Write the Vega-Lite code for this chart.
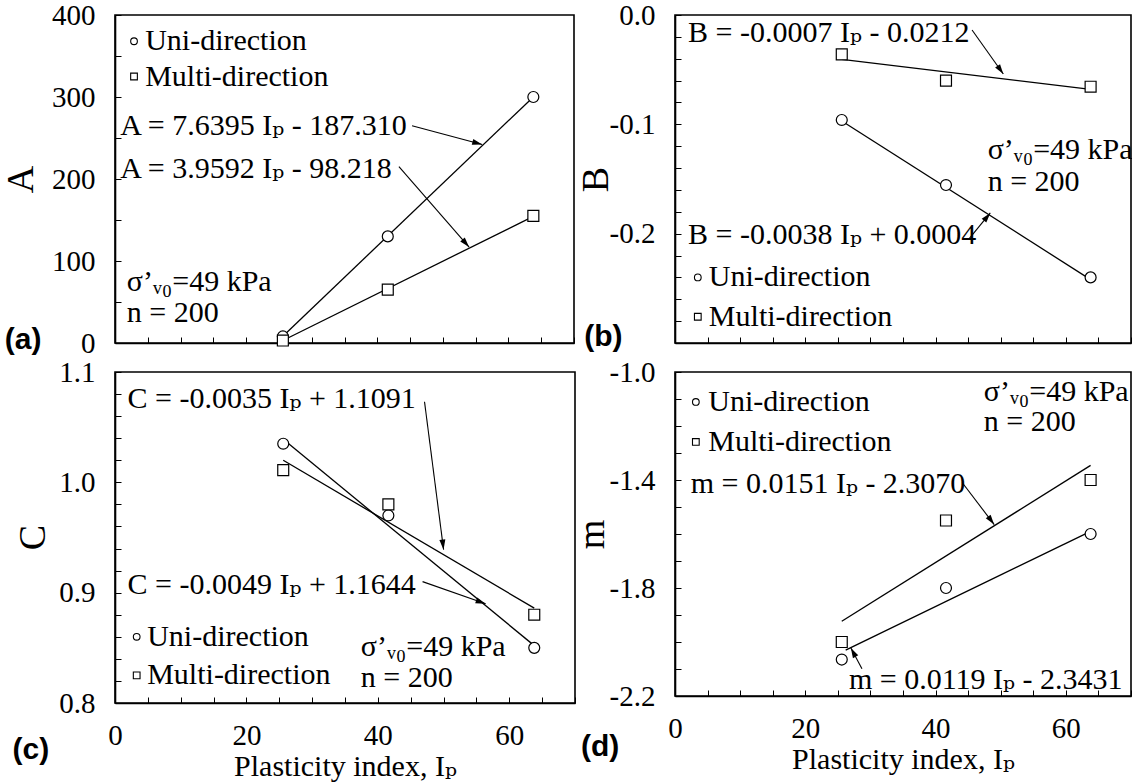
{
  "$schema": "https://vega.github.io/schema/vega-lite/v6.json",
  "background": "white",
  "padding": {"left": 1, "top": 0, "right": 0, "bottom": 0},
  "datasets": {
    "points": [
      {"panel": "a", "series": "Uni-direction", "ip": 25.6, "v": 8},
      {"panel": "a", "series": "Uni-direction", "ip": 41.6, "v": 130},
      {"panel": "a", "series": "Uni-direction", "ip": 63.8, "v": 300},
      {"panel": "a", "series": "Multi-direction", "ip": 25.6, "v": 3},
      {"panel": "a", "series": "Multi-direction", "ip": 41.6, "v": 65},
      {"panel": "a", "series": "Multi-direction", "ip": 63.8, "v": 155},
      {"panel": "b", "series": "Uni-direction", "ip": 25.6, "v": -0.096},
      {"panel": "b", "series": "Uni-direction", "ip": 41.6, "v": -0.1555},
      {"panel": "b", "series": "Uni-direction", "ip": 63.8, "v": -0.24},
      {"panel": "b", "series": "Multi-direction", "ip": 25.6, "v": -0.036},
      {"panel": "b", "series": "Multi-direction", "ip": 41.6, "v": -0.06},
      {"panel": "b", "series": "Multi-direction", "ip": 63.8, "v": -0.0656},
      {"panel": "c", "series": "Uni-direction", "ip": 25.6, "v": 1.035},
      {"panel": "c", "series": "Uni-direction", "ip": 41.6, "v": 0.97},
      {"panel": "c", "series": "Uni-direction", "ip": 63.8, "v": 0.85},
      {"panel": "c", "series": "Multi-direction", "ip": 25.6, "v": 1.011},
      {"panel": "c", "series": "Multi-direction", "ip": 41.6, "v": 0.98},
      {"panel": "c", "series": "Multi-direction", "ip": 63.8, "v": 0.88},
      {"panel": "d", "series": "Uni-direction", "ip": 25.6, "v": -2.065},
      {"panel": "d", "series": "Uni-direction", "ip": 41.6, "v": -1.8},
      {"panel": "d", "series": "Uni-direction", "ip": 63.8, "v": -1.6},
      {"panel": "d", "series": "Multi-direction", "ip": 25.6, "v": -2.0},
      {"panel": "d", "series": "Multi-direction", "ip": 41.6, "v": -1.55},
      {"panel": "d", "series": "Multi-direction", "ip": 63.8, "v": -1.4}
    ],
    "keys": [
      {"panel": "a", "series": "Uni-direction", "ip": 2.9, "v": 368},
      {"panel": "a", "series": "Multi-direction", "ip": 2.9, "v": 325},
      {"panel": "b", "series": "Uni-direction", "ip": 3.5, "v": -0.24},
      {"panel": "b", "series": "Multi-direction", "ip": 3.5, "v": -0.276},
      {"panel": "c", "series": "Uni-direction", "ip": 3.3, "v": 0.86},
      {"panel": "c", "series": "Multi-direction", "ip": 3.3, "v": 0.825},
      {"panel": "d", "series": "Uni-direction", "ip": 3.2, "v": -1.111},
      {"panel": "d", "series": "Multi-direction", "ip": 3.2, "v": -1.259}
    ],
    "fits": [
      {"panel": "a", "series": "Uni-direction", "ip": 25.6, "v": 8.3},
      {"panel": "a", "series": "Uni-direction", "ip": 63.8, "v": 300.1},
      {"panel": "a", "series": "Multi-direction", "ip": 25.6, "v": 3.1},
      {"panel": "a", "series": "Multi-direction", "ip": 63.8, "v": 154.4},
      {"panel": "b", "series": "Uni-direction", "ip": 25.6, "v": -0.097},
      {"panel": "b", "series": "Uni-direction", "ip": 63.8, "v": -0.242},
      {"panel": "b", "series": "Multi-direction", "ip": 25.6, "v": -0.0405},
      {"panel": "b", "series": "Multi-direction", "ip": 63.8, "v": -0.068},
      {"panel": "c", "series": "Uni-direction", "ip": 25.6, "v": 1.039},
      {"panel": "c", "series": "Uni-direction", "ip": 63.8, "v": 0.852},
      {"panel": "c", "series": "Multi-direction", "ip": 25.6, "v": 1.02},
      {"panel": "c", "series": "Multi-direction", "ip": 63.8, "v": 0.886},
      {"panel": "d", "series": "Uni-direction", "ip": 26.2, "v": -2.03},
      {"panel": "d", "series": "Uni-direction", "ip": 63.8, "v": -1.59},
      {"panel": "d", "series": "Multi-direction", "ip": 25.6, "v": -1.923},
      {"panel": "d", "series": "Multi-direction", "ip": 63.8, "v": -1.346}
    ],
    "arrows": [
      {"panel": "a", "ip0": 45.3, "v0": 265, "ip": 56.0, "v": 242, "angle": 105},
      {"panel": "a", "ip0": 43.3, "v0": 215, "ip": 54.0, "v": 117, "angle": 139},
      {"panel": "b", "ip0": 45.6, "v0": -0.0137, "ip": 50.4, "v": -0.054, "angle": 145},
      {"panel": "b", "ip0": 45.1, "v0": -0.205, "ip": 48.4, "v": -0.181, "angle": 39},
      {"panel": "c", "ip0": 47.1, "v0": 1.073, "ip": 50.0, "v": 0.939, "angle": 173},
      {"panel": "c", "ip0": 46.8, "v0": 0.91, "ip": 56.4, "v": 0.89, "angle": 109},
      {"panel": "d", "ip0": 44.2, "v0": -1.413, "ip": 49.0, "v": -1.565, "angle": 143},
      {"panel": "d", "ip0": 28.7, "v0": -2.099, "ip": 27.0, "v": -2.022, "angle": -28}
    ],
    "notes": [
      {"panel": "a", "ip": 0.8, "v": 265, "text": "A = 7.6395 Iₚ - 187.310"},
      {"panel": "a", "ip": 0.8, "v": 211.6, "text": "A = 3.9592 Iₚ - 98.218"},
      {"panel": "a", "ip": 1.8, "v": 74.6, "text": "σ’ᵥ₀=49 kPa"},
      {"panel": "a", "ip": 1.8, "v": 36.7, "text": "n = 200"},
      {"panel": "a", "ip": 4.6, "v": 368, "text": "Uni-direction"},
      {"panel": "a", "ip": 4.6, "v": 325, "text": "Multi-direction"},
      {"panel": "b", "ip": 2.0, "v": -0.0165, "text": "B = -0.0007 Iₚ - 0.0212"},
      {"panel": "b", "ip": 2.0, "v": -0.201, "text": "B = -0.0038 Iₚ + 0.0004"},
      {"panel": "b", "ip": 48.0, "v": -0.1235, "text": "σ’ᵥ₀=49 kPa"},
      {"panel": "b", "ip": 48.0, "v": -0.153, "text": "n = 200"},
      {"panel": "b", "ip": 5.2, "v": -0.24, "text": "Uni-direction"},
      {"panel": "b", "ip": 5.2, "v": -0.276, "text": "Multi-direction"},
      {"panel": "c", "ip": 1.9, "v": 1.0755, "text": "C = -0.0035 Iₚ + 1.1091"},
      {"panel": "c", "ip": 1.9, "v": 0.907, "text": "C = -0.0049 Iₚ + 1.1644"},
      {"panel": "c", "ip": 37.4, "v": 0.851, "text": "σ’ᵥ₀=49 kPa"},
      {"panel": "c", "ip": 37.4, "v": 0.823, "text": "n = 200"},
      {"panel": "c", "ip": 4.9, "v": 0.86, "text": "Uni-direction"},
      {"panel": "c", "ip": 4.9, "v": 0.825, "text": "Multi-direction"},
      {"panel": "d", "ip": 2.4, "v": -1.414, "text": "m = 0.0151 Iₚ - 2.3070"},
      {"panel": "d", "ip": 26.7, "v": -2.141, "text": "m = 0.0119 Iₚ - 2.3431"},
      {"panel": "d", "ip": 47.4, "v": -1.074, "text": "σ’ᵥ₀=49 kPa"},
      {"panel": "d", "ip": 47.4, "v": -1.185, "text": "n = 200"},
      {"panel": "d", "ip": 5.1, "v": -1.111, "text": "Uni-direction"},
      {"panel": "d", "ip": 5.1, "v": -1.259, "text": "Multi-direction"}
    ],
    "tags": [
      {"panel": "a", "ip": -14, "v": 3.7, "text": "(a)"},
      {"panel": "b", "ip": -11, "v": -0.2945, "text": "(b)"},
      {"panel": "c", "ip": -12.8, "v": 0.757, "text": "(c)"},
      {"panel": "d", "ip": -11.5, "v": -2.389, "text": "(d)"}
    ]
  },
  "columns": 2,
  "spacing": {"row": -2, "column": -5},
  "resolve": {
    "scale": {"x": "independent", "y": "independent", "shape": "independent"}
  },
  "concat": [
    {
      "width": 459, "height": 328,
      "encoding": {
        "x": {"field": "ip", "type": "quantitative", "scale": {"domain": [0, 70], "nice": false, "zero": false},
          "axis": {"title": null, "values": [0,5,10,15,20,25,30,35,40,45,50,55,60,65,70], "labels": false}},
        "y": {"field": "v", "type": "quantitative", "scale": {"domain": [0, 400], "nice": false, "zero": false},
          "axis": {"title": "A", "titleX": -94, "titleY": 164, "values": [0,50,100,150,200,250,300,350,400],
            "labelExpr": "datum.value % 100 == 0 ? format(datum.value, 'd') : ''"}}
      },
      "layer": [
        {"data": {"name": "fits"}, "transform": [{"filter": "datum.panel == 'a'"}],
         "mark": {"type": "line", "color": "black", "strokeWidth": 1.3}, "encoding": {"detail": {"field": "series"}}},
        {"data": {"name": "arrows"}, "transform": [{"filter": "datum.panel == 'a'"}],
         "mark": {"type": "rule", "color": "black", "strokeWidth": 1.1},
         "encoding": {"x2": {"field": "ip0"}, "y2": {"field": "v0"}}},
        {"data": {"name": "arrows"}, "transform": [{"filter": "datum.panel == 'a'"}],
         "mark": {"type": "point", "shape": "M0,0L-0.3,1L0.3,1Z", "filled": true, "color": "black", "size": 400, "opacity": 1},
         "encoding": {"angle": {"field": "angle", "type": "quantitative", "scale": null}}},
        {"data": {"name": "points"}, "transform": [{"filter": "datum.panel == 'a'"}],
         "mark": {"type": "point", "filled": true, "fill": "white", "stroke": "black", "strokeWidth": 1.2, "size": 120, "opacity": 1},
         "encoding": {"shape": {"field": "series", "type": "nominal", "legend": null,
           "scale": {"domain": ["Uni-direction", "Multi-direction"], "range": ["circle", "square"]}}}},
        {"data": {"name": "keys"}, "transform": [{"filter": "datum.panel == 'a'"}],
         "mark": {"type": "point", "filled": true, "fill": "white", "stroke": "black", "strokeWidth": 1.1, "size": 45, "opacity": 1},
         "encoding": {"shape": {"field": "series", "type": "nominal", "legend": null}}},
        {"data": {"name": "notes"}, "transform": [{"filter": "datum.panel == 'a'"}],
         "mark": {"type": "text", "align": "left", "baseline": "middle", "font": "Liberation Serif, DejaVu Serif", "fontSize": 30, "color": "black"},
         "encoding": {"text": {"field": "text"}}},
        {"data": {"name": "tags"}, "transform": [{"filter": "datum.panel == 'a'"}],
         "mark": {"type": "text", "align": "center", "baseline": "middle", "font": "Liberation Sans", "fontWeight": "bold", "fontSize": 30, "color": "black"},
         "encoding": {"text": {"field": "text"}}}
      ]
    },
    {
      "width": 456, "height": 328,
      "encoding": {
        "x": {"field": "ip", "type": "quantitative", "scale": {"domain": [0, 70], "nice": false, "zero": false},
          "axis": {"title": null, "values": [0,5,10,15,20,25,30,35,40,45,50,55,60,65,70], "labels": false}},
        "y": {"field": "v", "type": "quantitative", "scale": {"domain": [-0.3, 0], "nice": false, "zero": false},
          "axis": {"title": "B", "titleX": -79, "titleY": 164, "values": [0,-0.02,-0.04,-0.06,-0.08,-0.1,-0.12,-0.14,-0.16,-0.18,-0.2,-0.22,-0.24,-0.26,-0.28,-0.3],
            "labelExpr": "abs(datum.value*10 - round(datum.value*10)) < 0.000001 && datum.value > -0.25 ? format(datum.value, '.1f') : ''"}}
      },
      "layer": [
        {"data": {"name": "fits"}, "transform": [{"filter": "datum.panel == 'b'"}],
         "mark": {"type": "line", "color": "black", "strokeWidth": 1.3}, "encoding": {"detail": {"field": "series"}}},
        {"data": {"name": "arrows"}, "transform": [{"filter": "datum.panel == 'b'"}],
         "mark": {"type": "rule", "color": "black", "strokeWidth": 1.1},
         "encoding": {"x2": {"field": "ip0"}, "y2": {"field": "v0"}}},
        {"data": {"name": "arrows"}, "transform": [{"filter": "datum.panel == 'b'"}],
         "mark": {"type": "point", "shape": "M0,0L-0.3,1L0.3,1Z", "filled": true, "color": "black", "size": 400, "opacity": 1},
         "encoding": {"angle": {"field": "angle", "type": "quantitative", "scale": null}}},
        {"data": {"name": "points"}, "transform": [{"filter": "datum.panel == 'b'"}],
         "mark": {"type": "point", "filled": true, "fill": "white", "stroke": "black", "strokeWidth": 1.2, "size": 120, "opacity": 1},
         "encoding": {"shape": {"field": "series", "type": "nominal", "legend": null,
           "scale": {"domain": ["Uni-direction", "Multi-direction"], "range": ["circle", "square"]}}}},
        {"data": {"name": "keys"}, "transform": [{"filter": "datum.panel == 'b'"}],
         "mark": {"type": "point", "filled": true, "fill": "white", "stroke": "black", "strokeWidth": 1.1, "size": 45, "opacity": 1},
         "encoding": {"shape": {"field": "series", "type": "nominal", "legend": null}}},
        {"data": {"name": "notes"}, "transform": [{"filter": "datum.panel == 'b'"}],
         "mark": {"type": "text", "align": "left", "baseline": "middle", "font": "Liberation Serif, DejaVu Serif", "fontSize": 30, "color": "black"},
         "encoding": {"text": {"field": "text"}}},
        {"data": {"name": "tags"}, "transform": [{"filter": "datum.panel == 'b'"}],
         "mark": {"type": "text", "align": "center", "baseline": "middle", "font": "Liberation Sans", "fontWeight": "bold", "fontSize": 30, "color": "black"},
         "encoding": {"text": {"field": "text"}}}
      ]
    },
    {
      "width": 460, "height": 331,
      "encoding": {
        "x": {"field": "ip", "type": "quantitative", "scale": {"domain": [0, 70], "nice": false, "zero": false},
          "axis": {"title": "Plasticity index, Iₚ", "values": [0,5,10,15,20,25,30,35,40,45,50,55,60,65,70],
            "labelExpr": "datum.value % 20 == 0 ? format(datum.value, 'd') : ''"}},
        "y": {"field": "v", "type": "quantitative", "scale": {"domain": [0.8, 1.1], "nice": false, "zero": false},
          "axis": {"title": "C", "titleX": -82, "titleY": 165, "values": [0.8,0.82,0.84,0.86,0.88,0.9,0.92,0.94,0.96,0.98,1.0,1.02,1.04,1.06,1.08,1.1],
            "labelExpr": "abs(datum.value*10 - round(datum.value*10)) < 0.000001 ? format(datum.value, '.1f') : ''"}}
      },
      "layer": [
        {"data": {"name": "fits"}, "transform": [{"filter": "datum.panel == 'c'"}],
         "mark": {"type": "line", "color": "black", "strokeWidth": 1.3}, "encoding": {"detail": {"field": "series"}}},
        {"data": {"name": "arrows"}, "transform": [{"filter": "datum.panel == 'c'"}],
         "mark": {"type": "rule", "color": "black", "strokeWidth": 1.1},
         "encoding": {"x2": {"field": "ip0"}, "y2": {"field": "v0"}}},
        {"data": {"name": "arrows"}, "transform": [{"filter": "datum.panel == 'c'"}],
         "mark": {"type": "point", "shape": "M0,0L-0.3,1L0.3,1Z", "filled": true, "color": "black", "size": 400, "opacity": 1},
         "encoding": {"angle": {"field": "angle", "type": "quantitative", "scale": null}}},
        {"data": {"name": "points"}, "transform": [{"filter": "datum.panel == 'c'"}],
         "mark": {"type": "point", "filled": true, "fill": "white", "stroke": "black", "strokeWidth": 1.2, "size": 120, "opacity": 1},
         "encoding": {"shape": {"field": "series", "type": "nominal", "legend": null,
           "scale": {"domain": ["Uni-direction", "Multi-direction"], "range": ["circle", "square"]}}}},
        {"data": {"name": "keys"}, "transform": [{"filter": "datum.panel == 'c'"}],
         "mark": {"type": "point", "filled": true, "fill": "white", "stroke": "black", "strokeWidth": 1.1, "size": 45, "opacity": 1},
         "encoding": {"shape": {"field": "series", "type": "nominal", "legend": null}}},
        {"data": {"name": "notes"}, "transform": [{"filter": "datum.panel == 'c'"}],
         "mark": {"type": "text", "align": "left", "baseline": "middle", "font": "Liberation Serif, DejaVu Serif", "fontSize": 30, "color": "black"},
         "encoding": {"text": {"field": "text"}}},
        {"data": {"name": "tags"}, "transform": [{"filter": "datum.panel == 'c'"}],
         "mark": {"type": "text", "align": "center", "baseline": "middle", "font": "Liberation Sans", "fontWeight": "bold", "fontSize": 30, "color": "black"},
         "encoding": {"text": {"field": "text"}}}
      ]
    },
    {
      "width": 456, "height": 324,
      "encoding": {
        "x": {"field": "ip", "type": "quantitative", "scale": {"domain": [0, 70], "nice": false, "zero": false},
          "axis": {"title": "Plasticity index, Iₚ", "values": [0,5,10,15,20,25,30,35,40,45,50,55,60,65,70],
            "labelExpr": "datum.value % 20 == 0 ? format(datum.value, 'd') : ''"}},
        "y": {"field": "v", "type": "quantitative", "scale": {"domain": [-2.2, -1.0], "nice": false, "zero": false},
          "axis": {"title": "m", "titleX": -83, "titleY": 162, "values": [-2.2,-2.1,-2.0,-1.9,-1.8,-1.7,-1.6,-1.5,-1.4,-1.3,-1.2,-1.1,-1.0],
            "labelExpr": "abs((datum.value + 1) / 0.4 - round((datum.value + 1) / 0.4)) < 0.000001 ? format(datum.value, '.1f') : ''"}}
      },
      "layer": [
        {"data": {"name": "fits"}, "transform": [{"filter": "datum.panel == 'd'"}],
         "mark": {"type": "line", "color": "black", "strokeWidth": 1.3}, "encoding": {"detail": {"field": "series"}}},
        {"data": {"name": "arrows"}, "transform": [{"filter": "datum.panel == 'd'"}],
         "mark": {"type": "rule", "color": "black", "strokeWidth": 1.1},
         "encoding": {"x2": {"field": "ip0"}, "y2": {"field": "v0"}}},
        {"data": {"name": "arrows"}, "transform": [{"filter": "datum.panel == 'd'"}],
         "mark": {"type": "point", "shape": "M0,0L-0.3,1L0.3,1Z", "filled": true, "color": "black", "size": 400, "opacity": 1},
         "encoding": {"angle": {"field": "angle", "type": "quantitative", "scale": null}}},
        {"data": {"name": "points"}, "transform": [{"filter": "datum.panel == 'd'"}],
         "mark": {"type": "point", "filled": true, "fill": "white", "stroke": "black", "strokeWidth": 1.2, "size": 120, "opacity": 1},
         "encoding": {"shape": {"field": "series", "type": "nominal", "legend": null,
           "scale": {"domain": ["Uni-direction", "Multi-direction"], "range": ["circle", "square"]}}}},
        {"data": {"name": "keys"}, "transform": [{"filter": "datum.panel == 'd'"}],
         "mark": {"type": "point", "filled": true, "fill": "white", "stroke": "black", "strokeWidth": 1.1, "size": 45, "opacity": 1},
         "encoding": {"shape": {"field": "series", "type": "nominal", "legend": null}}},
        {"data": {"name": "notes"}, "transform": [{"filter": "datum.panel == 'd'"}],
         "mark": {"type": "text", "align": "left", "baseline": "middle", "font": "Liberation Serif, DejaVu Serif", "fontSize": 30, "color": "black"},
         "encoding": {"text": {"field": "text"}}},
        {"data": {"name": "tags"}, "transform": [{"filter": "datum.panel == 'd'"}],
         "mark": {"type": "text", "align": "center", "baseline": "middle", "font": "Liberation Sans", "fontWeight": "bold", "fontSize": 30, "color": "black"},
         "encoding": {"text": {"field": "text"}}}
      ]
    }
  ],
  "config": {
    "font": "Liberation Serif",
    "locale": {"number": {"decimal": ".", "thousands": ",", "grouping": [3], "currency": ["$", ""], "minus": "-"}},
    "view": {"stroke": "black", "strokeWidth": 1.6},
    "axis": {
      "grid": false,
      "domainColor": "black", "domainWidth": 1.6,
      "tickColor": "black", "tickWidth": 1, "tickSize": -6,
      "labelFont": "Liberation Serif", "labelFontSize": 29, "labelColor": "black",
      "labelFlush": false, "labelOverlap": false, "labelBound": false,
      "titleFont": "Liberation Serif, DejaVu Serif", "titleFontWeight": "normal", "titleColor": "black"
    },
    "axisX": {"labelPadding": 24, "titleFontSize": 30, "titlePadding": 1},
    "axisY": {"labelPadding": 26, "titleFontSize": 38, "titleBaseline": "middle", "titleAngle": -90}
  }
}
